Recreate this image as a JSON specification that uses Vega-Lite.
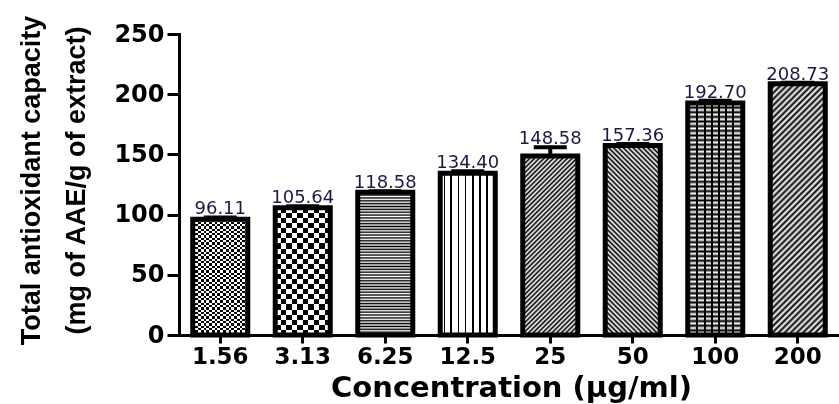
{
"$schema":"https://vega.github.io/schema/vega-lite/v6.json",
"width":660,"height":301,"autosize":{"type":"none"},
"padding":{"left":179,"top":34,"right":0,"bottom":69},
"background":"#ffffff",
"config":{"view":{"stroke":null},
"axis":{"grid":false,"domainColor":"#000","tickColor":"#000","labelColor":"#000","titleColor":"#000","labelFont":"DejaVu Sans","labelFontWeight":"bold","domainCap":"square"},
"axisY":{"tickSize":12,"tickWidth":3,"domainWidth":3,"labelFontSize":24,"labelPadding":3,"titleFont":"Liberation Sans","titleFontSize":27,"titleFontWeight":"bold","titleLineHeight":45,"titleX":-140,"titleY":146,"titleAngle":270,"titleAlign":"center","titleBaseline":"alphabetic"},
"axisX":{"labelAngle":0,"labelFontSize":23,"tickSize":8,"tickWidth":3,"domainWidth":3,"labelPadding":2,"titleFont":"DejaVu Sans","titleFontSize":29,"titleFontWeight":"bold","titleX":332,"titleY":61,"titleBaseline":"alphabetic","titleAlign":"center"}},
"data":{"values":[
{"c":"1.56","v":96.11,"hi":97.6},
{"c":"3.13","v":105.64,"hi":106.9},
{"c":"6.25","v":118.58,"hi":119.4},
{"c":"12.5","v":134.40,"hi":136.0},
{"c":"25","v":148.58,"hi":156.0},
{"c":"50","v":157.36,"hi":158.6},
{"c":"100","v":192.70,"hi":194.5},
{"c":"200","v":208.73,"hi":209.5}
]},
"encoding":{
"x":{"field":"c","type":"nominal","sort":null,"scale":{"domain":["1.56","3.13","6.25","12.5","25","50","100","200"],"paddingInner":0,"paddingOuter":0},"axis":{"title":"Concentration (µg/ml)"}},
"y":{"field":"v","type":"quantitative","scale":{"domain":[0,250],"nice":false},"axis":{"values":[0,50,100,150,200,250],"title":["Total antioxidant capacity","(mg of AAE/g of extract)"]}}
},
"layer":[
{"mark":{"type":"rule","strokeWidth":4,"color":"#000"},"encoding":{"y2":{"field":"hi"}}},
{"mark":{"type":"tick","size":33,"thickness":4,"color":"#000","opacity":1},"encoding":{"y":{"field":"hi","type":"quantitative","scale":{"domain":[0,250],"nice":false},"axis":{"values":[0,50,100,150,200,250],"title":["Total antioxidant capacity","(mg of AAE/g of extract)"]}}}},
{"transform":[{"filter":{"field":"c","equal":"1.56"}}],"mark":{"type":"bar","width":{"band":0.667},"fill":{"gradient":"linear","x1":0,"y1":0,"x2":1,"y2":0,"stops":[{"offset":0,"color":"#000"},{"offset":0.05,"color":"#000"},{"offset":0.05,"color":"#fff"},{"offset":0.1,"color":"#fff"},{"offset":0.1,"color":"#000"},{"offset":0.15,"color":"#000"},{"offset":0.15,"color":"#fff"},{"offset":0.2,"color":"#fff"},{"offset":0.2,"color":"#000"},{"offset":0.25,"color":"#000"},{"offset":0.25,"color":"#fff"},{"offset":0.3,"color":"#fff"},{"offset":0.3,"color":"#000"},{"offset":0.35,"color":"#000"},{"offset":0.35,"color":"#fff"},{"offset":0.4,"color":"#fff"},{"offset":0.4,"color":"#000"},{"offset":0.45,"color":"#000"},{"offset":0.45,"color":"#fff"},{"offset":0.5,"color":"#fff"},{"offset":0.5,"color":"#000"},{"offset":0.55,"color":"#000"},{"offset":0.55,"color":"#fff"},{"offset":0.6,"color":"#fff"},{"offset":0.6,"color":"#000"},{"offset":0.65,"color":"#000"},{"offset":0.65,"color":"#fff"},{"offset":0.7,"color":"#fff"},{"offset":0.7,"color":"#000"},{"offset":0.75,"color":"#000"},{"offset":0.75,"color":"#fff"},{"offset":0.8,"color":"#fff"},{"offset":0.8,"color":"#000"},{"offset":0.85,"color":"#000"},{"offset":0.85,"color":"#fff"},{"offset":0.9,"color":"#fff"},{"offset":0.9,"color":"#000"},{"offset":0.95,"color":"#000"},{"offset":0.95,"color":"#fff"},{"offset":1,"color":"#fff"}]}}},
{"transform":[{"filter":{"field":"c","equal":"1.56"}}],"mark":{"type":"bar","width":{"band":0.667},"blend":"difference","fill":{"gradient":"linear","x1":0,"y1":0,"x2":0,"y2":1,"stops":[{"offset":0,"color":"#fff"},{"offset":0.02,"color":"#fff"},{"offset":0.02,"color":"#000"},{"offset":0.04,"color":"#000"},{"offset":0.04,"color":"#fff"},{"offset":0.06,"color":"#fff"},{"offset":0.06,"color":"#000"},{"offset":0.08,"color":"#000"},{"offset":0.08,"color":"#fff"},{"offset":0.1,"color":"#fff"},{"offset":0.1,"color":"#000"},{"offset":0.12,"color":"#000"},{"offset":0.12,"color":"#fff"},{"offset":0.14,"color":"#fff"},{"offset":0.14,"color":"#000"},{"offset":0.16,"color":"#000"},{"offset":0.16,"color":"#fff"},{"offset":0.18,"color":"#fff"},{"offset":0.18,"color":"#000"},{"offset":0.2,"color":"#000"},{"offset":0.2,"color":"#fff"},{"offset":0.22,"color":"#fff"},{"offset":0.22,"color":"#000"},{"offset":0.24,"color":"#000"},{"offset":0.24,"color":"#fff"},{"offset":0.26,"color":"#fff"},{"offset":0.26,"color":"#000"},{"offset":0.28,"color":"#000"},{"offset":0.28,"color":"#fff"},{"offset":0.3,"color":"#fff"},{"offset":0.3,"color":"#000"},{"offset":0.32,"color":"#000"},{"offset":0.32,"color":"#fff"},{"offset":0.34,"color":"#fff"},{"offset":0.34,"color":"#000"},{"offset":0.36,"color":"#000"},{"offset":0.36,"color":"#fff"},{"offset":0.38,"color":"#fff"},{"offset":0.38,"color":"#000"},{"offset":0.4,"color":"#000"},{"offset":0.4,"color":"#fff"},{"offset":0.42,"color":"#fff"},{"offset":0.42,"color":"#000"},{"offset":0.44,"color":"#000"},{"offset":0.44,"color":"#fff"},{"offset":0.46,"color":"#fff"},{"offset":0.46,"color":"#000"},{"offset":0.48,"color":"#000"},{"offset":0.48,"color":"#fff"},{"offset":0.5,"color":"#fff"},{"offset":0.5,"color":"#000"},{"offset":0.52,"color":"#000"},{"offset":0.52,"color":"#fff"},{"offset":0.54,"color":"#fff"},{"offset":0.54,"color":"#000"},{"offset":0.56,"color":"#000"},{"offset":0.56,"color":"#fff"},{"offset":0.58,"color":"#fff"},{"offset":0.58,"color":"#000"},{"offset":0.6,"color":"#000"},{"offset":0.6,"color":"#fff"},{"offset":0.62,"color":"#fff"},{"offset":0.62,"color":"#000"},{"offset":0.64,"color":"#000"},{"offset":0.64,"color":"#fff"},{"offset":0.66,"color":"#fff"},{"offset":0.66,"color":"#000"},{"offset":0.68,"color":"#000"},{"offset":0.68,"color":"#fff"},{"offset":0.7,"color":"#fff"},{"offset":0.7,"color":"#000"},{"offset":0.72,"color":"#000"},{"offset":0.72,"color":"#fff"},{"offset":0.74,"color":"#fff"},{"offset":0.74,"color":"#000"},{"offset":0.76,"color":"#000"},{"offset":0.76,"color":"#fff"},{"offset":0.78,"color":"#fff"},{"offset":0.78,"color":"#000"},{"offset":0.8,"color":"#000"},{"offset":0.8,"color":"#fff"},{"offset":0.82,"color":"#fff"},{"offset":0.82,"color":"#000"},{"offset":0.84,"color":"#000"},{"offset":0.84,"color":"#fff"},{"offset":0.86,"color":"#fff"},{"offset":0.86,"color":"#000"},{"offset":0.88,"color":"#000"},{"offset":0.88,"color":"#fff"},{"offset":0.9,"color":"#fff"},{"offset":0.9,"color":"#000"},{"offset":0.92,"color":"#000"},{"offset":0.92,"color":"#fff"},{"offset":0.94,"color":"#fff"},{"offset":0.94,"color":"#000"},{"offset":0.96,"color":"#000"},{"offset":0.96,"color":"#fff"},{"offset":0.98,"color":"#fff"},{"offset":0.98,"color":"#000"},{"offset":1,"color":"#000"}]}}},
{"transform":[{"filter":{"field":"c","equal":"3.13"}}],"mark":{"type":"bar","width":{"band":0.667},"fill":{"gradient":"linear","x1":0,"y1":0,"x2":1,"y2":0,"stops":[{"offset":0,"color":"#000"},{"offset":0.1,"color":"#000"},{"offset":0.1,"color":"#fff"},{"offset":0.2,"color":"#fff"},{"offset":0.2,"color":"#000"},{"offset":0.3,"color":"#000"},{"offset":0.3,"color":"#fff"},{"offset":0.4,"color":"#fff"},{"offset":0.4,"color":"#000"},{"offset":0.5,"color":"#000"},{"offset":0.5,"color":"#fff"},{"offset":0.6,"color":"#fff"},{"offset":0.6,"color":"#000"},{"offset":0.7,"color":"#000"},{"offset":0.7,"color":"#fff"},{"offset":0.8,"color":"#fff"},{"offset":0.8,"color":"#000"},{"offset":0.9,"color":"#000"},{"offset":0.9,"color":"#fff"},{"offset":1,"color":"#fff"}]}}},
{"transform":[{"filter":{"field":"c","equal":"3.13"}}],"mark":{"type":"bar","width":{"band":0.667},"blend":"difference","fill":{"gradient":"linear","x1":0,"y1":0,"x2":0,"y2":1,"stops":[{"offset":0,"color":"#fff"},{"offset":0.04,"color":"#fff"},{"offset":0.04,"color":"#000"},{"offset":0.08,"color":"#000"},{"offset":0.08,"color":"#fff"},{"offset":0.12,"color":"#fff"},{"offset":0.12,"color":"#000"},{"offset":0.16,"color":"#000"},{"offset":0.16,"color":"#fff"},{"offset":0.2,"color":"#fff"},{"offset":0.2,"color":"#000"},{"offset":0.24,"color":"#000"},{"offset":0.24,"color":"#fff"},{"offset":0.28,"color":"#fff"},{"offset":0.28,"color":"#000"},{"offset":0.32,"color":"#000"},{"offset":0.32,"color":"#fff"},{"offset":0.36,"color":"#fff"},{"offset":0.36,"color":"#000"},{"offset":0.4,"color":"#000"},{"offset":0.4,"color":"#fff"},{"offset":0.44,"color":"#fff"},{"offset":0.44,"color":"#000"},{"offset":0.48,"color":"#000"},{"offset":0.48,"color":"#fff"},{"offset":0.52,"color":"#fff"},{"offset":0.52,"color":"#000"},{"offset":0.56,"color":"#000"},{"offset":0.56,"color":"#fff"},{"offset":0.6,"color":"#fff"},{"offset":0.6,"color":"#000"},{"offset":0.64,"color":"#000"},{"offset":0.64,"color":"#fff"},{"offset":0.68,"color":"#fff"},{"offset":0.68,"color":"#000"},{"offset":0.72,"color":"#000"},{"offset":0.72,"color":"#fff"},{"offset":0.76,"color":"#fff"},{"offset":0.76,"color":"#000"},{"offset":0.8,"color":"#000"},{"offset":0.8,"color":"#fff"},{"offset":0.84,"color":"#fff"},{"offset":0.84,"color":"#000"},{"offset":0.88,"color":"#000"},{"offset":0.88,"color":"#fff"},{"offset":0.92,"color":"#fff"},{"offset":0.92,"color":"#000"},{"offset":0.96,"color":"#000"},{"offset":0.96,"color":"#fff"},{"offset":1,"color":"#fff"}]}}},
{"transform":[{"filter":{"field":"c","equal":"6.25"}}],"mark":{"type":"bar","width":{"band":0.667},"fill":{"gradient":"linear","x1":0,"y1":0,"x2":0,"y2":1,"stops":[{"offset":0,"color":"#000"},{"offset":0.01,"color":"#fff"},{"offset":0.02,"color":"#000"},{"offset":0.03,"color":"#fff"},{"offset":0.04,"color":"#000"},{"offset":0.05,"color":"#fff"},{"offset":0.06,"color":"#000"},{"offset":0.07,"color":"#fff"},{"offset":0.08,"color":"#000"},{"offset":0.09,"color":"#fff"},{"offset":0.1,"color":"#000"},{"offset":0.11,"color":"#fff"},{"offset":0.12,"color":"#000"},{"offset":0.13,"color":"#fff"},{"offset":0.14,"color":"#000"},{"offset":0.15,"color":"#fff"},{"offset":0.16,"color":"#000"},{"offset":0.17,"color":"#fff"},{"offset":0.18,"color":"#000"},{"offset":0.19,"color":"#fff"},{"offset":0.2,"color":"#000"},{"offset":0.21,"color":"#fff"},{"offset":0.22,"color":"#000"},{"offset":0.23,"color":"#fff"},{"offset":0.24,"color":"#000"},{"offset":0.25,"color":"#fff"},{"offset":0.26,"color":"#000"},{"offset":0.27,"color":"#fff"},{"offset":0.28,"color":"#000"},{"offset":0.29,"color":"#fff"},{"offset":0.3,"color":"#000"},{"offset":0.31,"color":"#fff"},{"offset":0.32,"color":"#000"},{"offset":0.33,"color":"#fff"},{"offset":0.34,"color":"#000"},{"offset":0.35,"color":"#fff"},{"offset":0.36,"color":"#000"},{"offset":0.37,"color":"#fff"},{"offset":0.38,"color":"#000"},{"offset":0.39,"color":"#fff"},{"offset":0.4,"color":"#000"},{"offset":0.41,"color":"#fff"},{"offset":0.42,"color":"#000"},{"offset":0.43,"color":"#fff"},{"offset":0.44,"color":"#000"},{"offset":0.45,"color":"#fff"},{"offset":0.46,"color":"#000"},{"offset":0.47,"color":"#fff"},{"offset":0.48,"color":"#000"},{"offset":0.49,"color":"#fff"},{"offset":0.5,"color":"#000"},{"offset":0.51,"color":"#fff"},{"offset":0.52,"color":"#000"},{"offset":0.53,"color":"#fff"},{"offset":0.54,"color":"#000"},{"offset":0.55,"color":"#fff"},{"offset":0.56,"color":"#000"},{"offset":0.57,"color":"#fff"},{"offset":0.58,"color":"#000"},{"offset":0.59,"color":"#fff"},{"offset":0.6,"color":"#000"},{"offset":0.61,"color":"#fff"},{"offset":0.62,"color":"#000"},{"offset":0.63,"color":"#fff"},{"offset":0.64,"color":"#000"},{"offset":0.65,"color":"#fff"},{"offset":0.66,"color":"#000"},{"offset":0.67,"color":"#fff"},{"offset":0.68,"color":"#000"},{"offset":0.69,"color":"#fff"},{"offset":0.7,"color":"#000"},{"offset":0.71,"color":"#fff"},{"offset":0.72,"color":"#000"},{"offset":0.73,"color":"#fff"},{"offset":0.74,"color":"#000"},{"offset":0.75,"color":"#fff"},{"offset":0.76,"color":"#000"},{"offset":0.77,"color":"#fff"},{"offset":0.78,"color":"#000"},{"offset":0.79,"color":"#fff"},{"offset":0.8,"color":"#000"},{"offset":0.81,"color":"#fff"},{"offset":0.82,"color":"#000"},{"offset":0.83,"color":"#fff"},{"offset":0.84,"color":"#000"},{"offset":0.85,"color":"#fff"},{"offset":0.86,"color":"#000"},{"offset":0.87,"color":"#fff"},{"offset":0.88,"color":"#000"},{"offset":0.89,"color":"#fff"},{"offset":0.9,"color":"#000"},{"offset":0.91,"color":"#fff"},{"offset":0.92,"color":"#000"},{"offset":0.93,"color":"#fff"},{"offset":0.94,"color":"#000"},{"offset":0.95,"color":"#fff"},{"offset":0.96,"color":"#000"},{"offset":0.97,"color":"#fff"},{"offset":0.98,"color":"#000"},{"offset":0.99,"color":"#fff"},{"offset":1,"color":"#000"}]}}},
{"transform":[{"filter":{"field":"c","equal":"12.5"}}],"mark":{"type":"bar","width":{"band":0.667},"fill":{"gradient":"linear","x1":0,"y1":0,"x2":1,"y2":0,"stops":[{"offset":0,"color":"#fff"},{"offset":0.061,"color":"#fff"},{"offset":0.061,"color":"#000"},{"offset":0.091,"color":"#000"},{"offset":0.091,"color":"#fff"},{"offset":0.181,"color":"#fff"},{"offset":0.181,"color":"#000"},{"offset":0.211,"color":"#000"},{"offset":0.211,"color":"#fff"},{"offset":0.316,"color":"#fff"},{"offset":0.316,"color":"#000"},{"offset":0.346,"color":"#000"},{"offset":0.346,"color":"#fff"},{"offset":0.443,"color":"#fff"},{"offset":0.443,"color":"#000"},{"offset":0.473,"color":"#000"},{"offset":0.473,"color":"#fff"},{"offset":0.576,"color":"#fff"},{"offset":0.576,"color":"#000"},{"offset":0.606,"color":"#000"},{"offset":0.606,"color":"#fff"},{"offset":0.709,"color":"#fff"},{"offset":0.709,"color":"#000"},{"offset":0.739,"color":"#000"},{"offset":0.739,"color":"#fff"},{"offset":0.836,"color":"#fff"},{"offset":0.836,"color":"#000"},{"offset":0.866,"color":"#000"},{"offset":0.866,"color":"#fff"},{"offset":1,"color":"#fff"}]}}},
{"transform":[{"filter":{"field":"c","equal":"25"}}],"mark":{"type":"bar","width":{"band":0.667},"fill":{"gradient":"linear","x1":0,"y1":0,"x2":0.367,"y2":1.195,"stops":[{"offset":0,"color":"#000"},{"offset":0.01,"color":"#fff"},{"offset":0.02,"color":"#000"},{"offset":0.03,"color":"#fff"},{"offset":0.04,"color":"#000"},{"offset":0.05,"color":"#fff"},{"offset":0.06,"color":"#000"},{"offset":0.07,"color":"#fff"},{"offset":0.08,"color":"#000"},{"offset":0.09,"color":"#fff"},{"offset":0.1,"color":"#000"},{"offset":0.11,"color":"#fff"},{"offset":0.12,"color":"#000"},{"offset":0.13,"color":"#fff"},{"offset":0.14,"color":"#000"},{"offset":0.15,"color":"#fff"},{"offset":0.16,"color":"#000"},{"offset":0.17,"color":"#fff"},{"offset":0.18,"color":"#000"},{"offset":0.19,"color":"#fff"},{"offset":0.2,"color":"#000"},{"offset":0.21,"color":"#fff"},{"offset":0.22,"color":"#000"},{"offset":0.23,"color":"#fff"},{"offset":0.24,"color":"#000"},{"offset":0.25,"color":"#fff"},{"offset":0.26,"color":"#000"},{"offset":0.27,"color":"#fff"},{"offset":0.28,"color":"#000"},{"offset":0.29,"color":"#fff"},{"offset":0.3,"color":"#000"},{"offset":0.31,"color":"#fff"},{"offset":0.32,"color":"#000"},{"offset":0.33,"color":"#fff"},{"offset":0.34,"color":"#000"},{"offset":0.35,"color":"#fff"},{"offset":0.36,"color":"#000"},{"offset":0.37,"color":"#fff"},{"offset":0.38,"color":"#000"},{"offset":0.39,"color":"#fff"},{"offset":0.4,"color":"#000"},{"offset":0.41,"color":"#fff"},{"offset":0.42,"color":"#000"},{"offset":0.43,"color":"#fff"},{"offset":0.44,"color":"#000"},{"offset":0.45,"color":"#fff"},{"offset":0.46,"color":"#000"},{"offset":0.47,"color":"#fff"},{"offset":0.48,"color":"#000"},{"offset":0.49,"color":"#fff"},{"offset":0.5,"color":"#000"},{"offset":0.51,"color":"#fff"},{"offset":0.52,"color":"#000"},{"offset":0.53,"color":"#fff"},{"offset":0.54,"color":"#000"},{"offset":0.55,"color":"#fff"},{"offset":0.56,"color":"#000"},{"offset":0.57,"color":"#fff"},{"offset":0.58,"color":"#000"},{"offset":0.59,"color":"#fff"},{"offset":0.6,"color":"#000"},{"offset":0.61,"color":"#fff"},{"offset":0.62,"color":"#000"},{"offset":0.63,"color":"#fff"},{"offset":0.64,"color":"#000"},{"offset":0.65,"color":"#fff"},{"offset":0.66,"color":"#000"},{"offset":0.67,"color":"#fff"},{"offset":0.68,"color":"#000"},{"offset":0.69,"color":"#fff"},{"offset":0.7,"color":"#000"},{"offset":0.71,"color":"#fff"},{"offset":0.72,"color":"#000"},{"offset":0.73,"color":"#fff"},{"offset":0.74,"color":"#000"},{"offset":0.75,"color":"#fff"},{"offset":0.76,"color":"#000"},{"offset":0.77,"color":"#fff"},{"offset":0.78,"color":"#000"},{"offset":0.79,"color":"#fff"},{"offset":0.8,"color":"#000"},{"offset":0.81,"color":"#fff"},{"offset":0.82,"color":"#000"},{"offset":0.83,"color":"#fff"},{"offset":0.84,"color":"#000"},{"offset":0.85,"color":"#fff"},{"offset":0.86,"color":"#000"},{"offset":0.87,"color":"#fff"},{"offset":0.88,"color":"#000"},{"offset":0.89,"color":"#fff"},{"offset":0.9,"color":"#000"},{"offset":0.91,"color":"#fff"},{"offset":0.92,"color":"#000"},{"offset":0.93,"color":"#fff"},{"offset":0.94,"color":"#000"},{"offset":0.95,"color":"#fff"},{"offset":0.96,"color":"#000"},{"offset":0.97,"color":"#fff"},{"offset":0.98,"color":"#000"},{"offset":0.99,"color":"#fff"},{"offset":1,"color":"#000"}]}}},
{"transform":[{"filter":{"field":"c","equal":"50"}}],"mark":{"type":"bar","width":{"band":0.667},"fill":{"gradient":"linear","x1":0,"y1":1,"x2":0.345,"y2":-0.19,"stops":[{"offset":0,"color":"#000"},{"offset":0.01,"color":"#fff"},{"offset":0.02,"color":"#000"},{"offset":0.03,"color":"#fff"},{"offset":0.04,"color":"#000"},{"offset":0.05,"color":"#fff"},{"offset":0.06,"color":"#000"},{"offset":0.07,"color":"#fff"},{"offset":0.08,"color":"#000"},{"offset":0.09,"color":"#fff"},{"offset":0.1,"color":"#000"},{"offset":0.11,"color":"#fff"},{"offset":0.12,"color":"#000"},{"offset":0.13,"color":"#fff"},{"offset":0.14,"color":"#000"},{"offset":0.15,"color":"#fff"},{"offset":0.16,"color":"#000"},{"offset":0.17,"color":"#fff"},{"offset":0.18,"color":"#000"},{"offset":0.19,"color":"#fff"},{"offset":0.2,"color":"#000"},{"offset":0.21,"color":"#fff"},{"offset":0.22,"color":"#000"},{"offset":0.23,"color":"#fff"},{"offset":0.24,"color":"#000"},{"offset":0.25,"color":"#fff"},{"offset":0.26,"color":"#000"},{"offset":0.27,"color":"#fff"},{"offset":0.28,"color":"#000"},{"offset":0.29,"color":"#fff"},{"offset":0.3,"color":"#000"},{"offset":0.31,"color":"#fff"},{"offset":0.32,"color":"#000"},{"offset":0.33,"color":"#fff"},{"offset":0.34,"color":"#000"},{"offset":0.35,"color":"#fff"},{"offset":0.36,"color":"#000"},{"offset":0.37,"color":"#fff"},{"offset":0.38,"color":"#000"},{"offset":0.39,"color":"#fff"},{"offset":0.4,"color":"#000"},{"offset":0.41,"color":"#fff"},{"offset":0.42,"color":"#000"},{"offset":0.43,"color":"#fff"},{"offset":0.44,"color":"#000"},{"offset":0.45,"color":"#fff"},{"offset":0.46,"color":"#000"},{"offset":0.47,"color":"#fff"},{"offset":0.48,"color":"#000"},{"offset":0.49,"color":"#fff"},{"offset":0.5,"color":"#000"},{"offset":0.51,"color":"#fff"},{"offset":0.52,"color":"#000"},{"offset":0.53,"color":"#fff"},{"offset":0.54,"color":"#000"},{"offset":0.55,"color":"#fff"},{"offset":0.56,"color":"#000"},{"offset":0.57,"color":"#fff"},{"offset":0.58,"color":"#000"},{"offset":0.59,"color":"#fff"},{"offset":0.6,"color":"#000"},{"offset":0.61,"color":"#fff"},{"offset":0.62,"color":"#000"},{"offset":0.63,"color":"#fff"},{"offset":0.64,"color":"#000"},{"offset":0.65,"color":"#fff"},{"offset":0.66,"color":"#000"},{"offset":0.67,"color":"#fff"},{"offset":0.68,"color":"#000"},{"offset":0.69,"color":"#fff"},{"offset":0.7,"color":"#000"},{"offset":0.71,"color":"#fff"},{"offset":0.72,"color":"#000"},{"offset":0.73,"color":"#fff"},{"offset":0.74,"color":"#000"},{"offset":0.75,"color":"#fff"},{"offset":0.76,"color":"#000"},{"offset":0.77,"color":"#fff"},{"offset":0.78,"color":"#000"},{"offset":0.79,"color":"#fff"},{"offset":0.8,"color":"#000"},{"offset":0.81,"color":"#fff"},{"offset":0.82,"color":"#000"},{"offset":0.83,"color":"#fff"},{"offset":0.84,"color":"#000"},{"offset":0.85,"color":"#fff"},{"offset":0.86,"color":"#000"},{"offset":0.87,"color":"#fff"},{"offset":0.88,"color":"#000"},{"offset":0.89,"color":"#fff"},{"offset":0.9,"color":"#000"},{"offset":0.91,"color":"#fff"},{"offset":0.92,"color":"#000"},{"offset":0.93,"color":"#fff"},{"offset":0.94,"color":"#000"},{"offset":0.95,"color":"#fff"},{"offset":0.96,"color":"#000"},{"offset":0.97,"color":"#fff"},{"offset":0.98,"color":"#000"},{"offset":0.99,"color":"#fff"},{"offset":1,"color":"#000"}]}}},
{"transform":[{"filter":{"field":"c","equal":"100"}}],"mark":{"type":"bar","width":{"band":0.667},"fill":{"gradient":"linear","x1":0,"y1":0,"x2":1,"y2":0,"stops":[{"offset":0,"color":"#fff"},{"offset":0.157,"color":"#fff"},{"offset":0.157,"color":"#000"},{"offset":0.193,"color":"#000"},{"offset":0.193,"color":"#fff"},{"offset":0.287,"color":"#fff"},{"offset":0.287,"color":"#000"},{"offset":0.323,"color":"#000"},{"offset":0.323,"color":"#fff"},{"offset":0.417,"color":"#fff"},{"offset":0.417,"color":"#000"},{"offset":0.453,"color":"#000"},{"offset":0.453,"color":"#fff"},{"offset":0.547,"color":"#fff"},{"offset":0.547,"color":"#000"},{"offset":0.583,"color":"#000"},{"offset":0.583,"color":"#fff"},{"offset":0.677,"color":"#fff"},{"offset":0.677,"color":"#000"},{"offset":0.713,"color":"#000"},{"offset":0.713,"color":"#fff"},{"offset":0.807,"color":"#fff"},{"offset":0.807,"color":"#000"},{"offset":0.843,"color":"#000"},{"offset":0.843,"color":"#fff"},{"offset":1,"color":"#fff"}]}}},
{"transform":[{"filter":{"field":"c","equal":"100"}}],"mark":{"type":"bar","width":{"band":0.667},"blend":"multiply","fill":{"gradient":"linear","x1":0,"y1":0,"x2":0,"y2":1,"stops":[{"offset":0,"color":"#000"},{"offset":0.01,"color":"#fff"},{"offset":0.02,"color":"#000"},{"offset":0.03,"color":"#fff"},{"offset":0.04,"color":"#000"},{"offset":0.05,"color":"#fff"},{"offset":0.06,"color":"#000"},{"offset":0.07,"color":"#fff"},{"offset":0.08,"color":"#000"},{"offset":0.09,"color":"#fff"},{"offset":0.1,"color":"#000"},{"offset":0.11,"color":"#fff"},{"offset":0.12,"color":"#000"},{"offset":0.13,"color":"#fff"},{"offset":0.14,"color":"#000"},{"offset":0.15,"color":"#fff"},{"offset":0.16,"color":"#000"},{"offset":0.17,"color":"#fff"},{"offset":0.18,"color":"#000"},{"offset":0.19,"color":"#fff"},{"offset":0.2,"color":"#000"},{"offset":0.21,"color":"#fff"},{"offset":0.22,"color":"#000"},{"offset":0.23,"color":"#fff"},{"offset":0.24,"color":"#000"},{"offset":0.25,"color":"#fff"},{"offset":0.26,"color":"#000"},{"offset":0.27,"color":"#fff"},{"offset":0.28,"color":"#000"},{"offset":0.29,"color":"#fff"},{"offset":0.3,"color":"#000"},{"offset":0.31,"color":"#fff"},{"offset":0.32,"color":"#000"},{"offset":0.33,"color":"#fff"},{"offset":0.34,"color":"#000"},{"offset":0.35,"color":"#fff"},{"offset":0.36,"color":"#000"},{"offset":0.37,"color":"#fff"},{"offset":0.38,"color":"#000"},{"offset":0.39,"color":"#fff"},{"offset":0.4,"color":"#000"},{"offset":0.41,"color":"#fff"},{"offset":0.42,"color":"#000"},{"offset":0.43,"color":"#fff"},{"offset":0.44,"color":"#000"},{"offset":0.45,"color":"#fff"},{"offset":0.46,"color":"#000"},{"offset":0.47,"color":"#fff"},{"offset":0.48,"color":"#000"},{"offset":0.49,"color":"#fff"},{"offset":0.5,"color":"#000"},{"offset":0.51,"color":"#fff"},{"offset":0.52,"color":"#000"},{"offset":0.53,"color":"#fff"},{"offset":0.54,"color":"#000"},{"offset":0.55,"color":"#fff"},{"offset":0.56,"color":"#000"},{"offset":0.57,"color":"#fff"},{"offset":0.58,"color":"#000"},{"offset":0.59,"color":"#fff"},{"offset":0.6,"color":"#000"},{"offset":0.61,"color":"#fff"},{"offset":0.62,"color":"#000"},{"offset":0.63,"color":"#fff"},{"offset":0.64,"color":"#000"},{"offset":0.65,"color":"#fff"},{"offset":0.66,"color":"#000"},{"offset":0.67,"color":"#fff"},{"offset":0.68,"color":"#000"},{"offset":0.69,"color":"#fff"},{"offset":0.7,"color":"#000"},{"offset":0.71,"color":"#fff"},{"offset":0.72,"color":"#000"},{"offset":0.73,"color":"#fff"},{"offset":0.74,"color":"#000"},{"offset":0.75,"color":"#fff"},{"offset":0.76,"color":"#000"},{"offset":0.77,"color":"#fff"},{"offset":0.78,"color":"#000"},{"offset":0.79,"color":"#fff"},{"offset":0.8,"color":"#000"},{"offset":0.81,"color":"#fff"},{"offset":0.82,"color":"#000"},{"offset":0.83,"color":"#fff"},{"offset":0.84,"color":"#000"},{"offset":0.85,"color":"#fff"},{"offset":0.86,"color":"#000"},{"offset":0.87,"color":"#fff"},{"offset":0.88,"color":"#000"},{"offset":0.89,"color":"#fff"},{"offset":0.9,"color":"#000"},{"offset":0.91,"color":"#fff"},{"offset":0.92,"color":"#000"},{"offset":0.93,"color":"#fff"},{"offset":0.94,"color":"#000"},{"offset":0.95,"color":"#fff"},{"offset":0.96,"color":"#000"},{"offset":0.97,"color":"#fff"},{"offset":0.98,"color":"#000"},{"offset":0.99,"color":"#fff"},{"offset":1,"color":"#000"}]}}},
{"transform":[{"filter":{"field":"c","equal":"200"}}],"mark":{"type":"bar","width":{"band":0.667},"fill":{"gradient":"linear","x1":0,"y1":0,"x2":0.2545,"y2":1.163,"stops":[{"offset":0,"color":"#000"},{"offset":0.01,"color":"#fff"},{"offset":0.02,"color":"#000"},{"offset":0.03,"color":"#fff"},{"offset":0.04,"color":"#000"},{"offset":0.05,"color":"#fff"},{"offset":0.06,"color":"#000"},{"offset":0.07,"color":"#fff"},{"offset":0.08,"color":"#000"},{"offset":0.09,"color":"#fff"},{"offset":0.1,"color":"#000"},{"offset":0.11,"color":"#fff"},{"offset":0.12,"color":"#000"},{"offset":0.13,"color":"#fff"},{"offset":0.14,"color":"#000"},{"offset":0.15,"color":"#fff"},{"offset":0.16,"color":"#000"},{"offset":0.17,"color":"#fff"},{"offset":0.18,"color":"#000"},{"offset":0.19,"color":"#fff"},{"offset":0.2,"color":"#000"},{"offset":0.21,"color":"#fff"},{"offset":0.22,"color":"#000"},{"offset":0.23,"color":"#fff"},{"offset":0.24,"color":"#000"},{"offset":0.25,"color":"#fff"},{"offset":0.26,"color":"#000"},{"offset":0.27,"color":"#fff"},{"offset":0.28,"color":"#000"},{"offset":0.29,"color":"#fff"},{"offset":0.3,"color":"#000"},{"offset":0.31,"color":"#fff"},{"offset":0.32,"color":"#000"},{"offset":0.33,"color":"#fff"},{"offset":0.34,"color":"#000"},{"offset":0.35,"color":"#fff"},{"offset":0.36,"color":"#000"},{"offset":0.37,"color":"#fff"},{"offset":0.38,"color":"#000"},{"offset":0.39,"color":"#fff"},{"offset":0.4,"color":"#000"},{"offset":0.41,"color":"#fff"},{"offset":0.42,"color":"#000"},{"offset":0.43,"color":"#fff"},{"offset":0.44,"color":"#000"},{"offset":0.45,"color":"#fff"},{"offset":0.46,"color":"#000"},{"offset":0.47,"color":"#fff"},{"offset":0.48,"color":"#000"},{"offset":0.49,"color":"#fff"},{"offset":0.5,"color":"#000"},{"offset":0.51,"color":"#fff"},{"offset":0.52,"color":"#000"},{"offset":0.53,"color":"#fff"},{"offset":0.54,"color":"#000"},{"offset":0.55,"color":"#fff"},{"offset":0.56,"color":"#000"},{"offset":0.57,"color":"#fff"},{"offset":0.58,"color":"#000"},{"offset":0.59,"color":"#fff"},{"offset":0.6,"color":"#000"},{"offset":0.61,"color":"#fff"},{"offset":0.62,"color":"#000"},{"offset":0.63,"color":"#fff"},{"offset":0.64,"color":"#000"},{"offset":0.65,"color":"#fff"},{"offset":0.66,"color":"#000"},{"offset":0.67,"color":"#fff"},{"offset":0.68,"color":"#000"},{"offset":0.69,"color":"#fff"},{"offset":0.7,"color":"#000"},{"offset":0.71,"color":"#fff"},{"offset":0.72,"color":"#000"},{"offset":0.73,"color":"#fff"},{"offset":0.74,"color":"#000"},{"offset":0.75,"color":"#fff"},{"offset":0.76,"color":"#000"},{"offset":0.77,"color":"#fff"},{"offset":0.78,"color":"#000"},{"offset":0.79,"color":"#fff"},{"offset":0.8,"color":"#000"},{"offset":0.81,"color":"#fff"},{"offset":0.82,"color":"#000"},{"offset":0.83,"color":"#fff"},{"offset":0.84,"color":"#000"},{"offset":0.85,"color":"#fff"},{"offset":0.86,"color":"#000"},{"offset":0.87,"color":"#fff"},{"offset":0.88,"color":"#000"},{"offset":0.89,"color":"#fff"},{"offset":0.9,"color":"#000"},{"offset":0.91,"color":"#fff"},{"offset":0.92,"color":"#000"},{"offset":0.93,"color":"#fff"},{"offset":0.94,"color":"#000"},{"offset":0.95,"color":"#fff"},{"offset":0.96,"color":"#000"},{"offset":0.97,"color":"#fff"},{"offset":0.98,"color":"#000"},{"offset":0.99,"color":"#fff"},{"offset":1,"color":"#000"}]}}},
{"mark":{"type":"bar","width":{"band":0.667},"fill":"transparent","stroke":"#000","strokeWidth":5}},
{"mark":{"type":"text","font":"DejaVu Sans","fontSize":18,"color":"#1a1a40","dy":-3,"baseline":"alphabetic"},"encoding":{"y":{"field":"hi","type":"quantitative","scale":{"domain":[0,250],"nice":false},"axis":{"values":[0,50,100,150,200,250],"title":["Total antioxidant capacity","(mg of AAE/g of extract)"]}},"text":{"field":"v","type":"quantitative","format":".2f"}}}
]
}
